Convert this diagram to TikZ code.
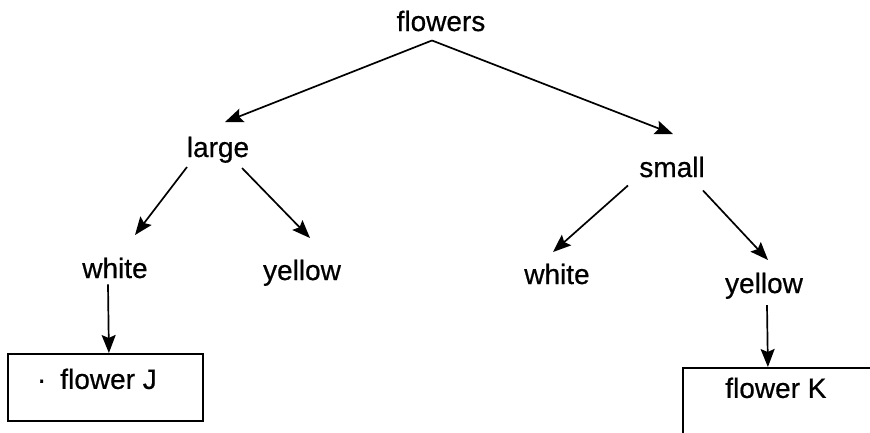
\documentclass[tikz,border=0pt]{standalone}
\usepackage{fontspec}
\setmainfont{Liberation Sans}
% slightly heavier strokes for the labels
\newfontfamily\labelfont{Liberation Sans}[FakeBold=0.6]
\usetikzlibrary{arrows.meta}
\begin{document}
\begin{tikzpicture}[x=1pt,y=-1pt,
  lbl/.style={inner sep=0pt, anchor=base, font=\labelfont\fontsize{28}{30}\selectfont},
  arr/.style={line width=1.7pt, -{Stealth[length=18pt,width=14pt,inset=3pt]}},
  leafbox/.style={draw, line width=1.8pt, inner sep=0pt, anchor=north west,
    font=\labelfont\fontsize{28}{30}\selectfont}]
\useasboundingbox (0,0) rectangle (870,432);
\clip (0,0) rectangle (870,432);

% tree labels
\node[lbl] (root)   at (441,31)  {flowers};
\node[lbl] (large)  at (218,157) {large};
\node[lbl] (small)  at (672,177) {small};
\node[lbl] (lwhite) at (115,278) {white};
\node[lbl] (lyel)   at (302,280) {yellow};
\node[lbl] (rwhite) at (557,284) {white};
\node[lbl] (ryel)   at (764,293) {yellow};

% leaf boxes
\node[leafbox, minimum width=195pt, minimum height=67pt,
      text height=35pt, text depth=32pt] (fj) at (7,353)
      {\textperiodcentered\hspace{14pt}flower J\kern17pt};
\node[leafbox, minimum width=210pt, minimum height=85pt,
      text height=30pt, text depth=55pt] (fk) at (682,367)
      {flower K\kern24pt};

% connectors
\draw[arr] ([shift={(-9,9)}]root.south)   -- ([shift={(7,-14.5)}]large.north);
\draw[arr] ([shift={(-9,9)}]root.south)   -- ([shift={(1,-22.5)}]small.north);
\draw[arr] ([shift={(-31,4)}]large.south) -- ([shift={(20,-22.5)}]lwhite.north);
\draw[arr] ([shift={(24,5)}]large.south)  -- ([shift={(8,-21.5)}]lyel.north);
\draw[arr] ([shift={(-44,8)}]small.south) -- ([shift={(-4,-11.5)}]rwhite.north);
\draw[arr] ([shift={(31,13)}]small.south) -- ([shift={(4,-12.5)}]ryel.north);
\draw[arr] ([shift={(-7,6)}]lwhite.south) -- ([shift={(3.5,0)}]fj.north);
\draw[arr] ([shift={(3,6)}]ryel.south)    -- ([shift={(-20,0)}]fk.north);
\end{tikzpicture}
\end{document}
